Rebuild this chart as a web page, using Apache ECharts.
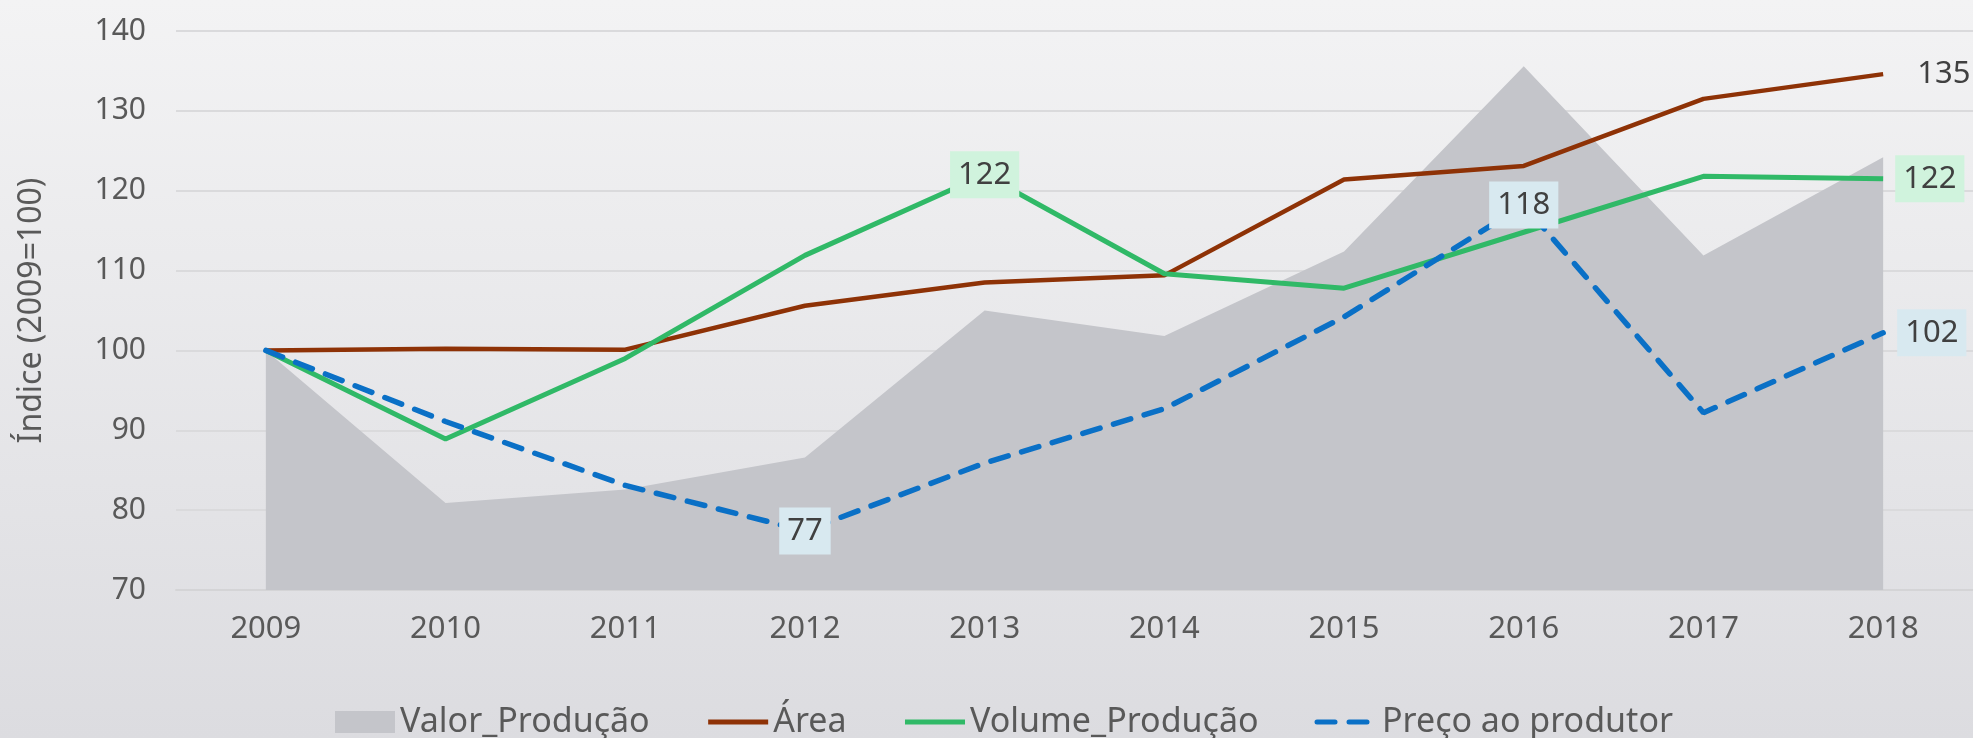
<!DOCTYPE html>
<html>
<head>
<meta charset="utf-8">
<script src="https://cdn.jsdelivr.net/npm/echarts@6/dist/echarts.min.js"></script>
<style>
  html, body { margin: 0; padding: 0; }
  #main { width: 1973px; height: 738px; }
</style>
</head>
<body>
<div id="main"></div>
<script>
var anos = ['2009', '2010', '2011', '2012', '2013', '2014', '2015', '2016', '2017', '2018'];
var valorProducao = [100, 80.9, 82.6, 86.6, 105.0, 101.8, 112.4, 135.6, 111.9, 124.2];
var area = [100, 100.2, 100.1, 105.6, 108.5, 109.4, 121.4, 123.1, 131.5, 134.6];
var volumeProducao = [100, 88.9, 99.0, 111.9, 122.0, 109.6, 107.8, 114.8, 121.8, 121.5];
var preco = [100, 91.1, 83.1, 77.4, 85.9, 92.7, 104.2, 118.2, 92.2, 102.2];

var fonte = "'Noto Sans', sans-serif";
var cinzaTexto = '#595959';

// rotulos so em alguns pontos
function comRotulos(valores, indices, estilo) {
  return valores.map(function (v, i) {
    if (indices[i] === undefined) return v;
    return { value: v, label: Object.assign({ show: true }, estilo, indices[i]) };
  });
}

var rotuloBase = {
  fontFamily: fonte,
  fontSize: 31,
  color: '#404040',
  formatter: function (p) { return Math.round(p.value); }
};

var chart = echarts.init(document.getElementById('main'));

var option = {
  backgroundColor: {
    type: 'linear', x: 0, y: 0, x2: 0, y2: 1,
    colorStops: [
      { offset: 0, color: '#f3f3f4' },
      { offset: 1, color: '#dcdce0' }
    ]
  },
  animation: false,
  grid: { left: 176, right: -8, top: 31, bottom: 148 },
  legend: {
    left: 330,
    bottom: -6,
    itemWidth: 60,
    itemHeight: 22,
    itemGap: 56,
    itemStyle: { opacity: 0 },
    lineStyle: { width: 5 },
    textStyle: { fontFamily: fonte, fontSize: 34, color: cinzaTexto },
    data: [
      { name: 'Valor_Produção', icon: 'rect', itemStyle: { opacity: 1 } },
      'Área',
      'Volume_Produção',
      'Preço ao produtor'
    ]
  },
  xAxis: {
    type: 'category',
    data: anos,
    boundaryGap: true,
    axisTick: { show: false },
    axisLine: { lineStyle: { color: '#d4d4d6', width: 2 } },
    axisLabel: { fontFamily: fonte, fontSize: 31, color: cinzaTexto, margin: 24 }
  },
  yAxis: {
    type: 'value',
    min: 70,
    max: 140,
    interval: 10,
    name: 'Índice (2009=100)',
    nameLocation: 'middle',
    nameRotate: 90,
    nameGap: 128,
    nameTextStyle: { fontFamily: fonte, fontSize: 32, color: cinzaTexto },
    axisLine: { show: false },
    axisTick: { show: false },
    axisLabel: { fontFamily: fonte, fontSize: 30, color: cinzaTexto, margin: 30 },
    splitLine: { lineStyle: { color: '#dadadc', width: 2 } }
  },
  series: [
    {
      name: 'Valor_Produção',
      type: 'line',
      data: valorProducao,
      symbol: 'none',
      color: '#c4c5ca',
      lineStyle: { width: 0 },
      areaStyle: { color: '#c4c5ca', opacity: 1 },
      z: 1
    },
    {
      name: 'Área',
      type: 'line',
      data: comRotulos(area, { 9: { position: 'right', distance: 34 } }, rotuloBase),
      symbol: 'circle',
      symbolSize: 0.1,
      color: '#8e3206',
      lineStyle: { width: 4.5 },
      z: 3
    },
    {
      name: 'Volume_Produção',
      type: 'line',
      data: comRotulos(volumeProducao, {
        4: { position: 'inside' },
        9: { position: 'right', distance: 12 }
      }, Object.assign({}, rotuloBase, { backgroundColor: '#d0f3dd', padding: [8, 8] })),
      symbol: 'circle',
      symbolSize: 0.1,
      color: '#30b967',
      lineStyle: { width: 5 },
      z: 4
    },
    {
      name: 'Preço ao produtor',
      type: 'line',
      data: comRotulos(preco, {
        3: { position: 'inside' },
        7: { position: 'inside' },
        9: { position: 'right', distance: 14 }
      }, Object.assign({}, rotuloBase, { backgroundColor: '#d8e9f0', padding: [8, 8] })),
      symbol: 'circle',
      symbolSize: 0.1,
      color: '#0a70c6',
      lineStyle: { width: 5.5, type: [18, 14], cap: 'round' },
      z: 5
    }
  ]
};

chart.setOption(option);
</script>
</body>
</html>
